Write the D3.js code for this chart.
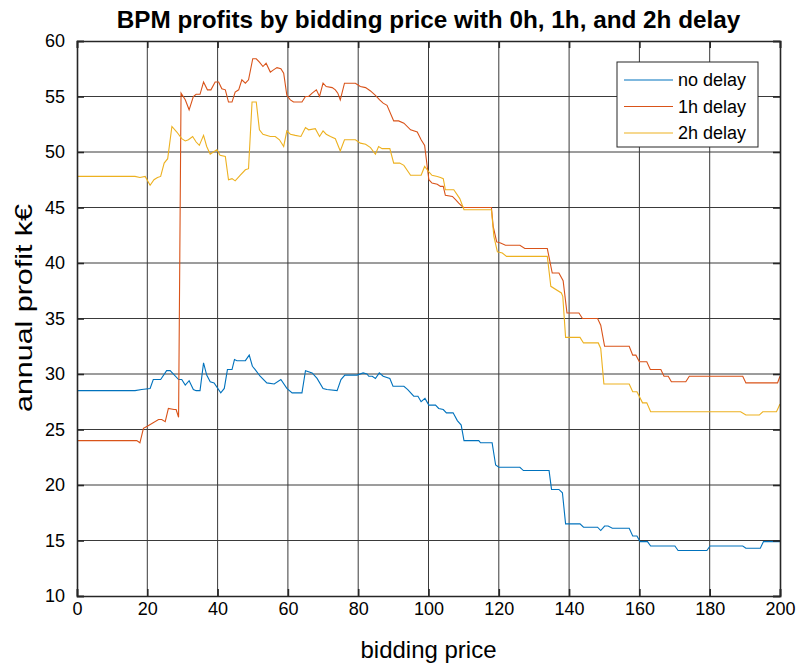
<!DOCTYPE html>
<html>
<head>
<meta charset="utf-8">
<script src="https://cdn.jsdelivr.net/npm/d3@7"></script>
<style>
  body { margin: 0; background: #fff; }
  text { font-family: "Liberation Sans", Arial, sans-serif; fill: #000; }
</style>
</head>
<body>
<div id="chart"></div>
<script>
// series names and colours (MATLAB default order)
var seriesNames = ["no delay", "1h delay", "2h delay"];
var seriesColors = ["#0072BD", "#D95319", "#EDB120"];

// no delay
var noDelayX = [0,16.5,18.4,20.8,21.7,23.8,25.5,26.5,28.9,29.8,30.8,31.9,33.1,33.9,35,36,36.9,37.9,39,40.9,41.9,42.8,44.1,44.8,45.5,47.9,49,49.9,50.7,52.1,54,56.1,58,59.7,61.2,64,65,66.9,68.3,70,71.1,74,75.1,76.2,79.7,81.4,82.5,83,84,84.9,86,87.1,89,89.9,93,94.1,95.8,97,97.9,99,100.1,102,102.9,104.2,105.1,107,108.2,109.3,110.1,114.3,114.8,118.1,119.1,120,126,127,134.3,135,137.1,138.1,139,143.1,144.1,148.1,149,150.1,151.1,152.3,157.1,158.1,159.3,160.2,162.3,163.2,170.1,171,179.2,180.1,189.4,190.3,194.4,195.3,200];
var noDelayY = [28.5,28.5,28.6,28.7,29.5,29.5,30.3,30.3,29.5,29.5,29.0,29.4,28.6,28.5,28.5,31.0,29.9,29.3,29.2,28.3,28.7,30.4,30.4,31.3,31.2,31.2,31.7,30.7,30.4,29.8,29.2,29.1,29.5,28.7,28.3,28.3,30.3,30.1,29.6,28.7,28.6,28.5,29.5,29.9,29.9,30.1,30.0,29.8,29.8,29.6,30.1,29.8,29.6,28.9,28.9,28.6,28.0,28.0,27.5,27.8,27.2,27.2,26.9,26.8,26.5,26.5,25.8,25.4,24.0,24.0,23.8,23.8,21.8,21.6,21.6,21.3,21.3,19.6,19.6,19.3,16.5,16.5,16.2,16.2,15.9,16.3,16.3,16.1,16.1,15.4,15.4,14.9,14.9,14.5,14.5,14.1,14.1,14.5,14.5,14.3,14.3,14.9,14.9];

// 1h delay
var oneHourX = [0,17,17.9,18.9,20,23.2,24.1,25.1,26,27.6,28.2,28.9,29.6,30.8,31.9,33.1,33.9,35,36,37.1,38.1,39.3,40.3,41.2,42.2,43.1,44.1,45,46,46.9,47.9,48.8,50,51,51.9,52.9,53.8,55,55.9,56.9,58,58.8,59.7,60.7,61.6,64,65,65.9,66.9,68.1,69,70,70.9,72.6,73.5,74.2,74.9,76.1,79.2,80.6,82.1,83.5,84.9,86.1,87.1,88.2,90.1,91.5,93,94.9,96.8,97.9,98.9,99.4,100.1,101,102.5,103.4,104.2,104.8,106.8,107.7,108.6,109.9,117.9,118.4,119.4,120.5,121.9,126,127.4,133.8,135.2,137.1,138.3,139.4,142.8,143.8,148.1,149,150.1,157.1,158.1,159,160,162.1,163.1,166.1,167,168.2,169.1,173.2,174.2,189.4,190.3,199.3,200];
var oneHourY = [24.0,24.0,23.8,25.1,25.3,25.9,25.9,25.7,26.9,26.8,26.8,26.1,55.3,54.7,53.8,55.0,55.2,55.2,56.3,55.6,55.6,56.3,56.3,55.7,55.6,54.5,54.5,55.4,55.6,56.5,56.2,56.5,58.4,58.4,58.1,57.7,58.0,57.2,57.4,57.6,57.5,57.1,55.1,54.7,54.5,54.5,55.0,55.0,55.3,55.6,55.0,56.2,55.9,55.8,55.6,55.3,54.7,56.2,56.2,55.9,55.8,55.5,55.1,54.7,54.4,54.2,52.8,52.8,52.6,52.0,51.8,51.1,50.6,49.3,47.5,47.2,47.1,46.9,46.9,46.1,46.0,45.7,45.4,45.0,45.0,43.3,41.9,41.8,41.6,41.6,41.3,41.3,39.1,39.1,38.4,35.5,35.5,35.0,35.0,34.4,32.5,32.5,31.7,31.7,31.1,31.1,30.4,30.4,29.8,29.8,29.3,29.3,29.8,29.8,29.2,29.2,29.8];

// 2h delay
var twoHourX = [0,16.5,17.9,19.4,20.8,21.9,22.9,23.8,24.8,25.8,27,28.4,29.8,30.8,31.7,32.9,33.9,34.8,36,36.9,37.9,38.8,39.8,40.7,42.2,43.1,44.1,45,46.4,47.9,48.8,49.8,51,51.9,52.9,55,56.4,57.6,58.8,59.7,60.7,62.1,63.7,65,65.9,67.8,69,70,70.9,72.1,73.5,74.9,76.1,79.2,80.6,82.1,83.5,84.9,85.8,86.8,89,90.1,91.8,93,94.9,97.9,98.9,100.1,101,102.5,103.4,104.2,104.8,107.2,108.9,110.1,117.9,118.6,119.6,121,122.2,133.8,134.8,137.8,138.2,139,143.1,144.1,148.3,149,149.9,157.1,158.1,159.3,160.9,162.1,163.2,188.8,190.3,194.1,195.1,199,200];
var twoHourY = [47.8,47.8,47.7,47.8,47.0,47.5,47.7,47.8,49.0,49.4,52.3,51.8,51.2,51.0,51.1,51.4,50.9,50.6,51.5,50.5,49.8,50.0,50.2,49.7,49.6,47.5,47.6,47.4,47.9,48.4,48.5,54.5,54.5,52.0,51.6,51.4,51.4,51.1,50.5,51.9,51.6,51.5,51.4,52.2,52.0,52.1,51.4,51.9,51.6,51.4,51.2,50.1,51.1,51.1,50.8,50.7,50.4,49.8,50.5,50.3,50.3,49.0,49.0,48.8,47.9,47.9,48.7,48.2,47.9,47.8,47.7,47.6,46.6,46.6,45.8,44.8,44.8,42.4,41.0,40.9,40.6,40.6,37.9,37.3,37.0,33.3,33.3,32.8,32.8,32.3,29.1,29.1,28.4,28.4,27.4,27.4,26.6,26.6,26.3,26.3,26.6,26.6,27.3];

var xTicks = [0, 20, 40, 60, 80, 100, 120, 140, 160, 180, 200];
var yTicks = [10, 15, 20, 25, 30, 35, 40, 45, 50, 55, 60];

var width = 798, height = 664;
var margin = {top: 41, right: 18, bottom: 68, left: 77};
var plotW = width - margin.left - margin.right;
var plotH = height - margin.top - margin.bottom;

var svg = d3.select("#chart").append("svg")
  .attr("width", width)
  .attr("height", height);

var x = d3.scaleLinear().domain([0, 200]).range([0, plotW]);
var y = d3.scaleLinear().domain([10, 60]).range([plotH, 0]);

var g = svg.append("g")
  .attr("transform", "translate(" + margin.left + "," + margin.top + ")");

// grid
g.append("g").selectAll("line").data(xTicks.slice(1, -1)).enter().append("line")
  .attr("x1", d => x(d)).attr("x2", d => x(d))
  .attr("y1", 0).attr("y2", plotH)
  .attr("stroke", "#3a3a3a").attr("stroke-width", 1);
g.append("g").selectAll("line").data(yTicks.slice(1, -1)).enter().append("line")
  .attr("y1", d => y(d)).attr("y2", d => y(d))
  .attr("x1", 0).attr("x2", plotW)
  .attr("stroke", "#3a3a3a").attr("stroke-width", 1);

// lines
var allSeries = [
  {xs: noDelayX, ys: noDelayY},
  {xs: oneHourX, ys: oneHourY},
  {xs: twoHourX, ys: twoHourY}
];
var line = d3.line().x(d => x(d[0])).y(d => y(d[1]));

allSeries.forEach(function(s, i) {
  var pts = s.xs.map((v, j) => [v, s.ys[j]]);
  g.append("path")
    .datum(pts)
    .attr("d", line)
    .attr("fill", "none")
    .attr("stroke", seriesColors[i])
    .attr("stroke-width", 1.1);
});

// axes: bottom/left with labels, top/right ticks only, inward ticks
var tickLen = 7;
var xAxis = d3.axisBottom(x).tickValues(xTicks).tickSize(-tickLen).tickPadding(13);
var yAxis = d3.axisLeft(y).tickValues(yTicks).tickSize(-tickLen).tickPadding(12);

var gx = g.append("g").attr("transform", "translate(0," + plotH + ")").call(xAxis);
var gy = g.append("g").call(yAxis);
var gx2 = g.append("g").call(d3.axisTop(x).tickValues(xTicks).tickSize(-tickLen).tickFormat(""));
var gy2 = g.append("g").attr("transform", "translate(" + plotW + ",0)")
  .call(d3.axisRight(y).tickValues(yTicks).tickSize(-tickLen).tickFormat(""));

[gx, gy, gx2, gy2].forEach(function(a) {
  a.select(".domain").attr("stroke", "#262626").attr("stroke-width", 1.6);
  a.selectAll(".tick line").attr("stroke", "#262626").attr("stroke-width", 1.6);
  a.selectAll(".tick text")
    .style("font-family", "'Liberation Sans', Arial, sans-serif")
    .style("font-size", "18px")
    .attr("fill", "#262626");
});
gx.selectAll(".tick text").attr("dy", "0.35em");

// title and labels
svg.append("text")
  .attr("x", margin.left + plotW / 2)
  .attr("y", 28)
  .attr("text-anchor", "middle")
  .style("font-size", "24.3px")
  .style("font-weight", "bold")
  .text("BPM profits by bidding price with 0h, 1h, and 2h delay");

svg.append("text")
  .attr("x", margin.left + plotW / 2)
  .attr("y", 658)
  .attr("text-anchor", "middle")
  .style("font-size", "24px")
  .attr("fill", "#262626")
  .text("bidding price");

svg.append("text")
  .attr("transform", "translate(32,308) rotate(-90)")
  .attr("text-anchor", "middle")
  .attr("textLength", 208)
  .attr("lengthAdjust", "spacingAndGlyphs")
  .style("font-size", "24px")
  .attr("fill", "#262626")
  .text("annual profit k€");

// legend
var legX = 617 - margin.left, legY = 62 - margin.top, legW = 141, legH = 85;
var leg = g.append("g");
leg.append("rect")
  .attr("x", legX).attr("y", legY)
  .attr("width", legW).attr("height", legH)
  .attr("fill", "#fff").attr("stroke", "#262626").attr("stroke-width", 1);
seriesNames.forEach(function(name, i) {
  var ly = legY + 18 + i * 26.5;
  leg.append("line")
    .attr("x1", legX + 7).attr("x2", legX + 56)
    .attr("y1", ly).attr("y2", ly)
    .attr("stroke", seriesColors[i]).attr("stroke-width", 1.1);
  leg.append("text")
    .attr("x", legX + 61).attr("y", ly)
    .attr("dy", "0.36em")
    .style("font-size", "18px")
    .text(name);
});
</script>
</body>
</html>
